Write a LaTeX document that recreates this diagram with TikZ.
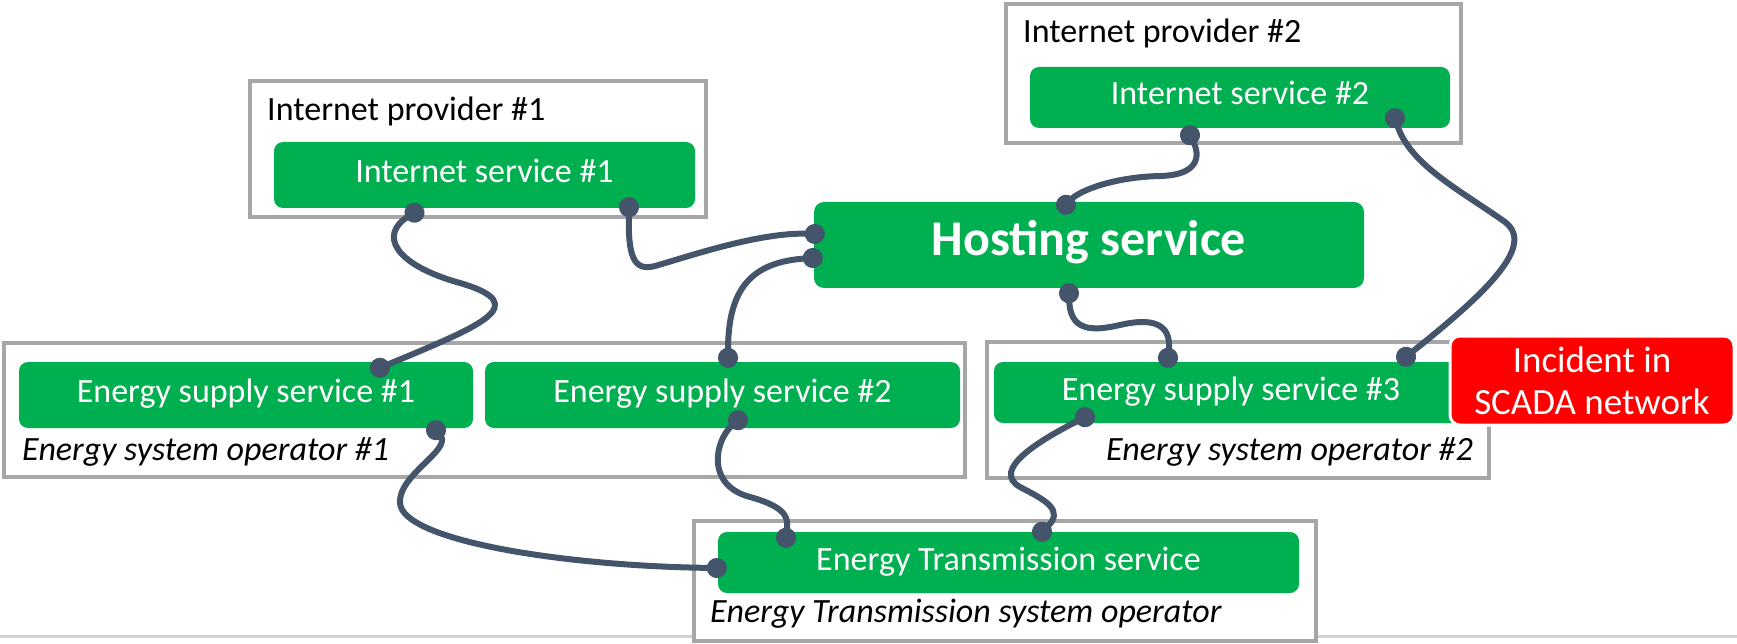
\documentclass[tikz,border=0pt]{standalone}
\usepackage{fontspec}
\setmainfont{Carlito}
\usetikzlibrary{arrows.meta}
\usetikzlibrary{calc}

\definecolor{svcgreen}{HTML}{00B050}
\definecolor{linkgray}{HTML}{44546A}
\definecolor{framegray}{HTML}{A6A6A6}
\definecolor{alertred}{HTML}{FF0000}

\tikzset{
  service/.style={fill=svcgreen,rounded corners=9pt,text=white,inner sep=0pt,
    font=\fontsize{34}{41}\selectfont,text height=22pt,text depth=7pt},
  operator/.style={draw=framegray,fill=white,line width=3.5pt,inner sep=0pt},
  caption/.style={anchor=base west,inner sep=0pt,font=\fontsize{34}{41}\selectfont},
  link/.style={draw=linkgray,line width=6pt,{Circle[length=20pt]}-{Circle[length=20pt]},
    shorten <=-10pt,shorten >=-10pt},
}

\begin{document}
\begin{tikzpicture}[x=1pt,y=-1pt]
  \useasboundingbox (0,0) rectangle (1737,644);
  \draw[line width=3pt,draw=black!18] (0,636) -- (1737,636);

  % provider and operator frames
  \begin{scope}[every node/.style={operator}]
    \node[minimum width=456pt,minimum height=136pt] (ip1) at (478,149) {};
    \node[minimum width=455pt,minimum height=139pt] (ip2) at (1233.5,73.5) {};
    \node[minimum width=961pt,minimum height=134pt] (eso1) at (484.5,410) {};
    \node[minimum width=502pt,minimum height=136pt] (eso2) at (1238,410) {};
    \node[minimum width=622pt,minimum height=120pt] (etso) at (1005,581) {};
  \end{scope}
  \node[caption] (ip1 label) at (267,121) {Internet provider \#1};
  \node[caption] (ip2 label) at (1023,43) {Internet provider \#2};
  \node[caption,font=\fontsize{34}{41}\selectfont\itshape] (eso1 label) at (22,460) {Energy system operator \#1};
  \node[caption,anchor=base east,font=\fontsize{34}{41}\selectfont\itshape] (eso2 label) at (1473,460) {Energy system operator \#2};
  \node[caption,font=\fontsize{34}{41}\selectfont\itshape] (etso label) at (710,622) {Energy Transmission system operator};

  % services
  \begin{scope}[every node/.style={service}]
    \node[minimum width=421pt,minimum height=66pt] (is1) at (484.5,175) {Internet service \#1};
    \node[minimum width=420pt,minimum height=61pt] (is2) at (1240,97.5) {Internet service \#2};
    \node[minimum width=550pt,minimum height=86pt,rounded corners=10pt,
      font=\fontsize{50}{60}\selectfont\bfseries,text height=32pt,text depth=10pt] (host) at (1089,245) {Hosting service};
    \node[minimum width=454pt,minimum height=66pt] (ess1) at (246,395) {Energy supply service \#1};
    \node[minimum width=475pt,minimum height=66pt] (ess2) at (722.5,395) {Energy supply service \#2};
    \node[minimum width=474pt,minimum height=61pt] (ess3) at (1231,392.5) {Energy supply service \#3};
    \node[minimum width=581pt,minimum height=61pt] (ets) at (1008.5,562.5) {Energy Transmission service};
  \end{scope}

  % dependencies
  \draw[link] ($(is1.south)+(-70,4.5)$) .. controls (378,235) and (395,265) .. (460,283)
    .. controls (535,305) and (480,326) .. ($(ess1.north)+(134,6)$);
  \draw[link] ($(is1.south)+(144.5,-1)$) .. controls (628,255) and (633,272) .. (655,266)
    .. controls (690,256) and (760,232) .. ($(host.west)+(1,-11)$);
  \draw[link] ($(host.west)+(-1,13)$) .. controls (750,262) and (728,290) .. ($(ess2.north)+(5.5,-4)$);
  \draw[link] ($(is2.south)+(-50,7)$) .. controls (1200,155) and (1200,175) .. (1160,176)
    .. controls (1115,177) and (1080,190) .. ($(host.north)+(-23,3)$);
  \draw[link] ($(is2.south)+(155,-10)$) .. controls (1410,165) and (1460,190) .. (1505,222)
    .. controls (1535,245) and (1490,290) .. ($(ess3.north)+(175,-5)$);
  \draw[link] ($(host.south)+(-20,5)$) .. controls (1070,330) and (1090,332) .. (1120,325)
    .. controls (1150,318) and (1172,322) .. ($(ess3.north)+(-63,-4)$);
  \draw[link] ($(ess1.south)+(190,2)$) .. controls (452,450) and (398,475) .. (400,503)
    .. controls (402,540) and (560,566) .. ($(ets.west)+(-1,5.5)$);
  \draw[link] ($(ess2.south)+(15.5,-8)$) .. controls (715,440) and (705,485) .. (750,497)
    .. controls (790,508) and (788,520) .. ($(ets.north)+(-222.5,6)$);
  \draw[link] ($(ess3.south)+(-146,-6)$) .. controls (1040,440) and (990,470) .. (1020,487)
    .. controls (1045,500) and (1065,510) .. ($(ets.north)+(33.5,0)$);

  \node[fill=alertred,draw=white,line width=3pt,rounded corners=10pt,text=white,align=center,
    minimum width=284pt,minimum height=89pt,inner sep=0pt,
    font=\fontsize{37}{42}\selectfont] (scada) at (1592,380.5) {Incident in\\SCADA network};
\end{tikzpicture}
\end{document}
